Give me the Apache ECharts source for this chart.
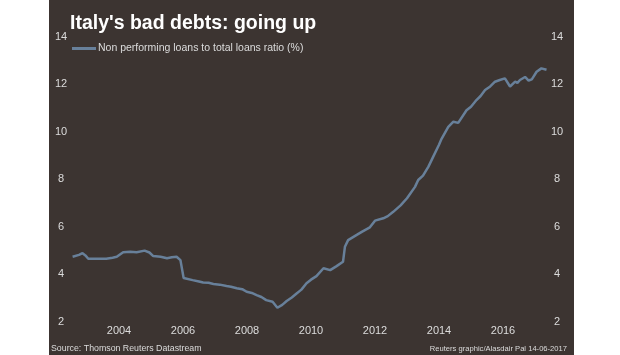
<!DOCTYPE html>
<html>
<head>
<meta charset="utf-8">
<script src="https://cdn.jsdelivr.net/npm/echarts@6/dist/echarts.min.js"></script>
<style>
  html, body {margin:0; padding:0; background:#ffffff;}
  #main {width:620px; height:355px;}
</style>
</head>
<body>
<div id="main"></div>
<script>
// decimal years and NPL ratio (%)
var years = [
  2002.55, 2002.75, 2002.86, 2002.95, 2003.04, 2003.3, 2003.6, 2003.8, 2003.93,
  2004.13, 2004.35, 2004.55, 2004.8, 2004.95, 2005.07, 2005.3, 2005.5, 2005.65,
  2005.8, 2005.92, 2006.02, 2006.06, 2006.3, 2006.5, 2006.63, 2006.8, 2006.95,
  2007.15, 2007.36, 2007.5, 2007.68, 2007.85, 2007.99, 2008.15, 2008.3, 2008.45,
  2008.6, 2008.8, 2008.95, 2009.1, 2009.24, 2009.4, 2009.55, 2009.7, 2009.86,
  2010.0, 2010.17, 2010.39, 2010.6, 2010.8, 2011.0, 2011.06, 2011.16, 2011.43,
  2011.6, 2011.84, 2012.0, 2012.26, 2012.4, 2012.57, 2012.8, 2013.0, 2013.25,
  2013.35, 2013.5, 2013.67, 2013.82, 2014.0, 2014.08, 2014.29, 2014.45, 2014.6,
  2014.86, 2015.0, 2015.17, 2015.3, 2015.44, 2015.6, 2015.75, 2015.9, 2016.06,
  2016.22, 2016.38, 2016.45, 2016.53, 2016.69, 2016.8, 2016.9, 2017.05, 2017.2,
  2017.36
];
var ratio = [
  4.74, 4.82, 4.89, 4.80, 4.66, 4.66, 4.66, 4.70, 4.74,
  4.93, 4.95, 4.93, 5.00, 4.92, 4.77, 4.74, 4.68, 4.72,
  4.74, 4.60, 3.85, 3.79, 3.76, 3.70, 3.66, 3.65, 3.60,
  3.57, 3.51, 3.48, 3.42, 3.38, 3.27, 3.22, 3.13, 3.05,
  2.92, 2.85, 2.60, 2.72, 2.88, 3.03, 3.20, 3.36, 3.63,
  3.78, 3.93, 4.26, 4.18, 4.35, 4.53, 5.16, 5.44, 5.66,
  5.80, 5.98, 6.26, 6.36, 6.45, 6.63, 6.90, 7.20, 7.68,
  7.97, 8.15, 8.53, 8.95, 9.45, 9.70, 10.20, 10.42, 10.37,
  10.90, 11.05, 11.33, 11.50, 11.75, 11.90, 12.10, 12.17, 12.24,
  11.90, 12.10, 12.05, 12.17, 12.30, 12.15, 12.20, 12.52, 12.66,
  12.60
];
var seriesName = 'Non performing loans to total loans ratio (%)';

var bg = '#3c3431';
var lineColor = '#68809a';
var textColor = '#dcdcdc';
var font = '"Liberation Sans", Arial, sans-serif';

var myChart = echarts.init(document.getElementById('main'), null, {renderer: 'canvas'});

var yLabel = function (margin) {
    return {
        inside: true,
        align: 'center',
        margin: margin,
        color: textColor,
        fontSize: 11,
        fontFamily: font
    };
};

var option = {
    backgroundColor: '#ffffff',
    animation: false,
    title: {
        text: "Italy's bad debts: going up",
        left: 70,
        top: 14,
        padding: 0,
        textStyle: {color: '#ffffff', fontSize: 19.5, fontWeight: 'bold', fontFamily: font}
    },
    legend: {
        data: [seriesName],
        left: 72,
        top: 43,
        padding: 0,
        icon: 'rect',
        itemWidth: 24,
        itemHeight: 3,
        itemGap: 0,
        textStyle: {color: textColor, fontSize: 10.5, fontFamily: font, padding: [0, 0, 0, -3]}
    },
    grid: {left: 55, right: 53, top: 36.5, bottom: 33, containLabel: false},
    xAxis: {
        type: 'value',
        min: 2002,
        max: 2018,
        interval: 2,
        axisLine: {show: false},
        axisTick: {show: false},
        splitLine: {show: false},
        axisLabel: {
            showMinLabel: false,
            showMaxLabel: false,
            margin: 3,
            color: textColor,
            fontSize: 11,
            fontFamily: font,
            formatter: function (v) { return String(v); }
        }
    },
    yAxis: [
        {
            type: 'value', min: 2, max: 14, interval: 2, position: 'left',
            axisLine: {show: false}, axisTick: {show: false}, splitLine: {show: false},
            axisLabel: yLabel(6)
        },
        {
            type: 'value', min: 2, max: 14, interval: 2, position: 'right',
            axisLine: {show: false}, axisTick: {show: false}, splitLine: {show: false},
            axisLabel: yLabel(10)
        }
    ],
    graphic: [
        {type: 'rect', z: -10, shape: {x: 49, y: 0, width: 525, height: 355}, style: {fill: bg}},
        {type: 'text', z: 10, left: 51, top: 344,
         style: {text: 'Source: Thomson Reuters Datastream', fill: textColor, fontSize: 8.8, fontFamily: font}},
        {type: 'text', z: 10, right: 53, top: 345,
         style: {text: 'Reuters graphic/Alasdair Pal 14-06-2017', fill: textColor, fontSize: 7.6, fontFamily: font}}
    ],
    series: [
        {
            name: seriesName,
            type: 'line',
            data: years.map(function (y, i) { return [y, ratio[i]]; }),
            showSymbol: false,
            symbol: 'none',
            lineStyle: {color: lineColor, width: 2.5},
            itemStyle: {color: lineColor}
        }
    ]
};

if (option && typeof option === "object") {
    myChart.setOption(option, true);
}
</script>
</body>
</html>
